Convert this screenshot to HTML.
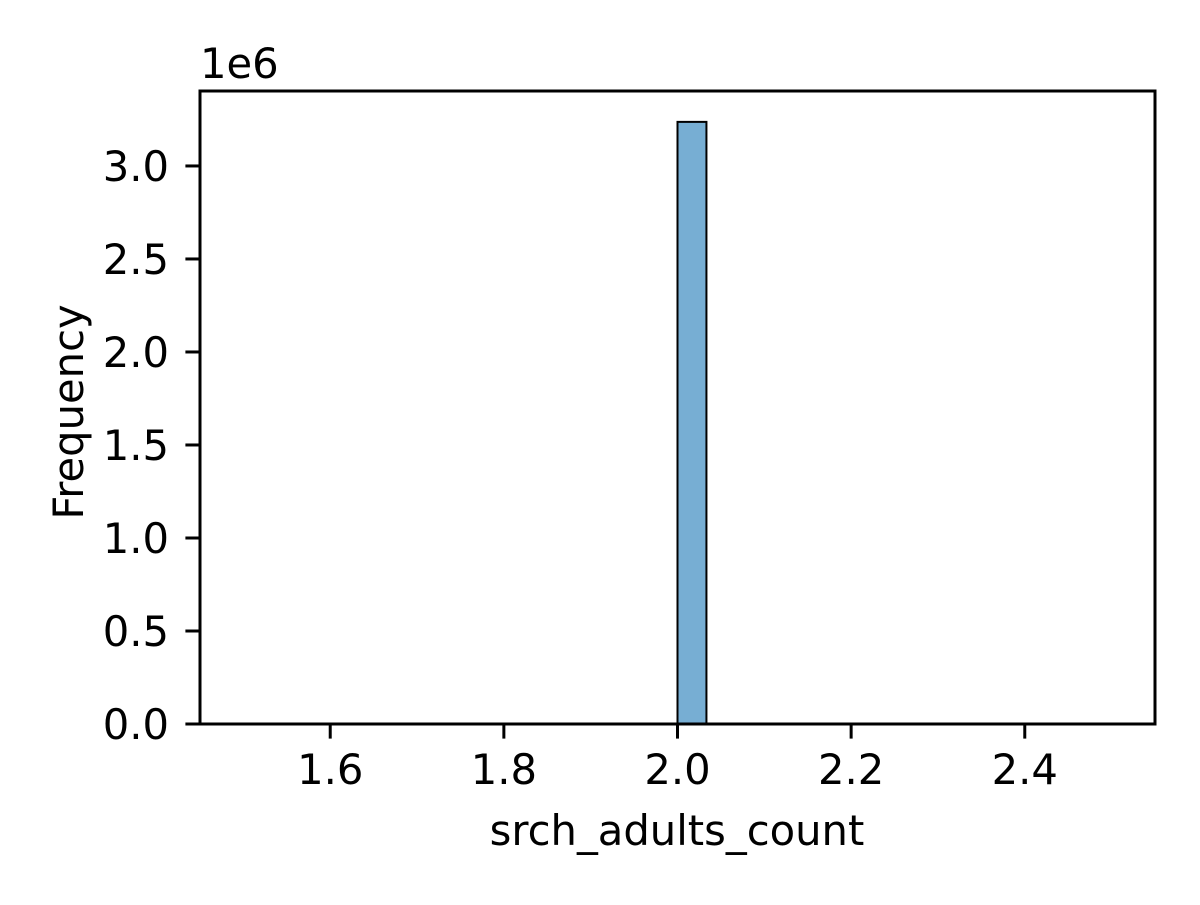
<!DOCTYPE html>
<html><head><meta charset="utf-8"><style>
html,body{margin:0;padding:0;background:#fff;}
svg text{font-family:"DejaVu Sans","Liberation Sans",sans-serif;fill:#000;}
</style></head><body>
<svg id="chart" width="1200" height="900" xmlns="http://www.w3.org/2000/svg">
<rect width="1200" height="900" fill="#fff"/>
<g id="bars"></g>
<g id="xticks"></g>
<g id="yticks"></g>
<rect x="200" y="91" width="955" height="633" fill="none" stroke="#000" stroke-width="3"/>
<text x="200" y="78" font-size="41.7">1e6</text>
<text x="677" y="845" font-size="41.7" text-anchor="middle">srch_adults_count</text>
<text x="0" y="0" font-size="41.7" text-anchor="middle" transform="translate(83,412) rotate(-90)">Frequency</text>
</svg>
<script>
const binStarts = [2.0];
const binWidth = 1/30;
const counts = [3237000];
const xTicks = [1.6, 1.8, 2.0, 2.2, 2.4];
const xTickLabels = ["1.6", "1.8", "2.0", "2.2", "2.4"];
const yTicks = [0, 0.5e6, 1.0e6, 1.5e6, 2.0e6, 2.5e6, 3.0e6];
const yTickLabels = ["0.0", "0.5", "1.0", "1.5", "2.0", "2.5", "3.0"];
const xMin = 1.45, xMax = 2.55, yMin = 0, yMax = 3.403e6;
const L = 200, R = 1155, T = 91, B = 724;
const NS = "http://www.w3.org/2000/svg";
function xs(v){return L + (v - xMin) / (xMax - xMin) * (R - L);}
function ys(v){return B - (v - yMin) / (yMax - yMin) * (B - T);}
function mk(tag, attrs){const e = document.createElementNS(NS, tag); for (const k in attrs) e.setAttribute(k, attrs[k]); return e;}
const bars = document.getElementById('bars');
binStarts.forEach((s, i) => {
  const x0 = xs(s), x1 = xs(s + binWidth), y = ys(counts[i]);
  const r = mk('rect', {x: x0, y: y, width: x1 - x0, height: B - y, fill: '#77aed3', stroke: '#000', 'stroke-width': 2});
  
  
  bars.appendChild(r);
});
const xg = document.getElementById('xticks');
xTicks.forEach((t, i) => {
  const x = xs(t);
  const l = mk('line', {x1: x, x2: x, y1: B, y2: B + 14.6, stroke: '#000', 'stroke-width': 3});
  
  
  xg.appendChild(l);
  const tx = mk('text', {x: x, y: B + 60, 'font-size': 41.7, 'text-anchor': 'middle'});
  tx.textContent = xTickLabels[i];
  
  
  xg.appendChild(tx);
});
const yg = document.getElementById('yticks');
yTicks.forEach((t, i) => {
  const y = ys(t);
  const l = mk('line', {x1: L - 14.6, x2: L, y1: y, y2: y, stroke: '#000', 'stroke-width': 3});
  
  
  yg.appendChild(l);
  const tx = mk('text', {x: L - 31, y: y + 15, 'font-size': 41.7, 'text-anchor': 'end'});
  tx.textContent = yTickLabels[i];
  
  
  yg.appendChild(tx);
});
</script>
</body></html>
